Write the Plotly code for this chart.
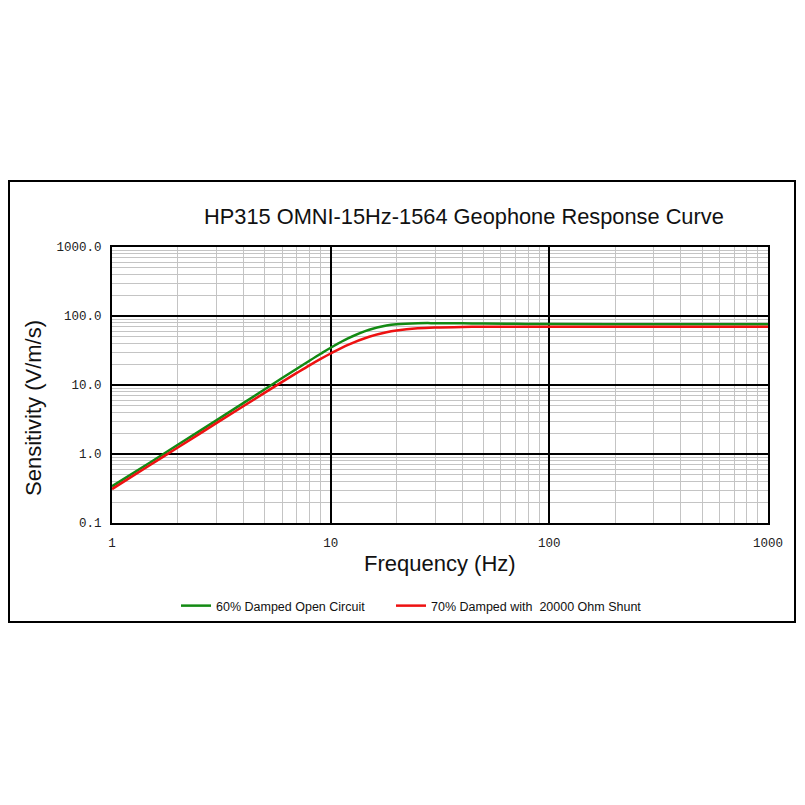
import plotly.graph_objects as go

# Data
freq_hz = [1, 1.5, 2, 3, 4, 5, 6, 7, 8, 9, 10, 12, 15, 18, 20, 25, 30, 40, 50, 70, 100, 200, 500, 1000]
open_circuit = [0.34, 0.76, 1.36, 3.07, 5.5, 8.66, 12.6, 17.2, 22.5, 28.4, 34.7, 47.4, 63.3, 72.7, 75.9,
                78.6, 78.8, 78.2, 77.6, 76.9, 76.5, 76.1, 76.0, 76.0]
shunt_20k = [0.31, 0.70, 1.24, 2.8, 4.97, 7.75, 11.1, 14.96, 19.3, 23.9, 28.6, 38.1, 50.0, 58.0, 61.5,
             66.3, 68.2, 69.5, 69.8, 70.0, 70.0, 70.0, 70.0, 70.0]

x_major = [1, 10, 100, 1000]
x_major_text = ["1", "10", "100", "1000"]
y_major = [0.1, 1, 10, 100, 1000]
y_major_text = ["0.1", "1.0", "10.0", "100.0", "1000.0"]
minor_vals = [m * 10 ** e for e in range(-1, 3) for m in range(2, 10)]

names = ["60% Damped Open Circuit", "70% Damped with  20000 Ohm Shunt"]
colors = ["#138a13", "#ee1111"]
legends = ["legend", "legend2"]

fig = go.Figure()
for vals, name, col, lg in zip([open_circuit, shunt_20k], names, colors, legends):
    fig.add_trace(go.Scatter(x=freq_hz, y=vals, mode="lines", name=name, legend=lg,
                             line=dict(color=col, width=2.5, shape="spline", smoothing=1)))

OFF = 8  # page body margin
FW = 805 - 2 * OFF
FH = 805 - 2 * OFF
# target plot area in page pixels
PX0, PX1, PY0, PY1 = 112, 768, 247, 523
L, T = PX0 - OFF, PY0 - OFF
R, B = FW - (PX1 - OFF), FH - (PY1 - OFF)
W, H = PX1 - PX0, PY1 - PY0


def px(x):
    return (x - PX0) / W


def py(y):
    return (PY1 - y) / H


leg_font = dict(family="Liberation Sans, Arial", size=12.5, color="#111")
fig.update_layout(
    width=FW, height=FH,
    margin=dict(l=L, r=R, t=T, b=B, pad=0),
    paper_bgcolor="white", plot_bgcolor="white",
    showlegend=True,
    legend=dict(orientation="h", x=px(176), xanchor="left", y=py(606), yanchor="middle",
                font=leg_font, bgcolor="rgba(0,0,0,0)"),
    legend2=dict(orientation="h", x=px(391), xanchor="left", y=py(606), yanchor="middle",
                 font=leg_font, bgcolor="rgba(0,0,0,0)"),
    xaxis=dict(type="log", range=[0, 3], tickvals=x_major, ticktext=x_major_text,
               showgrid=True, gridcolor="black", gridwidth=2,
               minor=dict(tickvals=minor_vals + [2000], showgrid=True, gridcolor="#c4c4c4", gridwidth=1, ticks=""),
               showline=True, mirror=True, linecolor="black", linewidth=2, ticks="",
               tickfont=dict(family="Liberation Mono, monospace", size=12.5, color="#222"),
               ticklabelstandoff=7, zeroline=False),
    yaxis=dict(type="log", range=[-1, 3], tickvals=y_major, ticktext=y_major_text,
               showgrid=True, gridcolor="black", gridwidth=2,
               minor=dict(tickvals=minor_vals, showgrid=True, gridcolor="#c4c4c4", gridwidth=1, ticks=""),
               showline=True, mirror=True, linecolor="black", linewidth=2, ticks="",
               tickfont=dict(family="Liberation Mono, monospace", size=12.5, color="#222"),
               ticklabelstandoff=6, zeroline=False),
    font=dict(family="Liberation Sans, Arial, sans-serif"),
)

# Outer frame (kept inside the visible figure area)
fig.add_shape(type="rect", xref="paper", yref="paper",
              x0=px(OFF + 1), x1=px(805 - OFF - 2), y0=py(622), y1=py(181),
              line=dict(color="black", width=2), fillcolor="rgba(0,0,0,0)", layer="below")

# Title
fig.add_annotation(text="HP315 OMNI-15Hz-1564 Geophone Response Curve", xref="paper", yref="paper",
                   x=px(464), y=py(216), xanchor="center", yanchor="middle", showarrow=False,
                   font=dict(family="Liberation Sans, Arial", size=21.8, color="#111"))
# Axis titles
fig.add_annotation(text="Frequency (Hz)", xref="paper", yref="paper",
                   x=px(440), y=py(563), xanchor="center", yanchor="middle", showarrow=False,
                   font=dict(family="Liberation Sans, Arial", size=22, color="#111"))
fig.add_annotation(text="Sensitivity (V/m/s)", xref="paper", yref="paper", textangle=-90,
                   x=px(33), y=py(408), xanchor="center", yanchor="middle", showarrow=False,
                   font=dict(family="Liberation Sans, Arial", size=22, color="#111"))

fig.write_html("out.html")
